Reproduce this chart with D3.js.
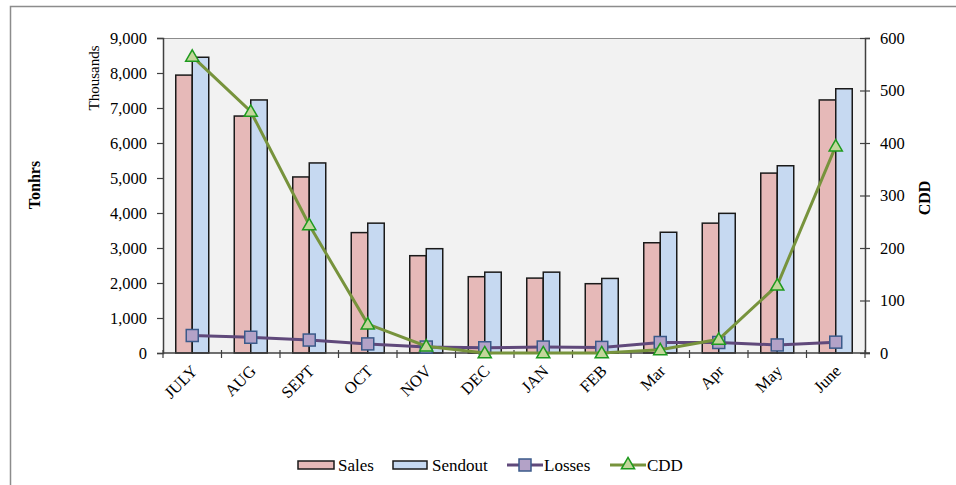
<!DOCTYPE html>
<html>
<head>
<meta charset="utf-8">
<script src="https://cdn.jsdelivr.net/npm/d3@7"></script>
<style>
  html, body { margin: 0; padding: 0; background: #fff; }
  svg { display: block; }
  text { font-family: "Liberation Serif", "Times New Roman", serif; fill: #000; }
</style>
</head>
<body>
<svg id="chart" width="956" height="485"></svg>
<script>
const months = ["JULY","AUG","SEPT","OCT","NOV","DEC","JAN","FEB","Mar","Apr","May","June"];
const sales   = [7940, 6770, 5030, 3440, 2780, 2180, 2140, 1980, 3150, 3710, 5140, 7230];
const sendout = [8450, 7230, 5430, 3710, 2980, 2310, 2310, 2130, 3450, 3990, 5350, 7550];
const losses  = [500, 450, 370, 260, 170, 150, 170, 160, 300, 300, 230, 310];
const cdd     = [565, 460, 244, 55, 13, 0, 0, 0, 6, 26, 129, 394];
const leftTicks  = [0,1000,2000,3000,4000,5000,6000,7000,8000,9000];
const rightTicks = [0,100,200,300,400,500,600];
const seriesNames = ["Sales","Sendout","Losses","CDD"];

const svg = d3.select("#chart");
const L = 163, R = 865, T = 38, B = 353;
const FS = "16.5px";

// outer frame
svg.append("rect").attr("x",10.5).attr("y",6.5).attr("width",960).attr("height",500)
  .attr("fill","none").attr("stroke","#8c8c8c").attr("stroke-width",1.5);

// plot area
svg.append("rect").attr("x",L).attr("y",T).attr("width",R-L).attr("height",B-T).attr("fill","#f2f2f2");
svg.append("line").attr("x1",L).attr("x2",R).attr("y1",T+0.5).attr("y2",T+0.5)
  .attr("stroke","#8c8c8c").attr("stroke-width",1);

const x = d3.scaleBand().domain(months).range([L,R]).padding(0);
const yL = d3.scaleLinear().domain([0,9000]).range([B,T]);
const yR = d3.scaleLinear().domain([0,600]).range([B,T]);
const bw = x.bandwidth()*0.282;

const fmt = d3.format(",");

// left axis
const gl = svg.append("g").attr("transform",`translate(${L},0)`)
  .call(d3.axisLeft(yL).tickValues(leftTicks).tickFormat(fmt).tickSizeOuter(0).tickSize(6).tickPadding(10));
gl.select(".domain").attr("stroke","#404040").attr("stroke-width",1.5);
gl.selectAll(".tick line").attr("stroke","#404040").attr("stroke-width",1.2);
gl.selectAll(".tick text").style("font-size",FS).attr("fill","#000");

// right axis
const gr = svg.append("g").attr("transform",`translate(${R},0)`)
  .call(d3.axisRight(yR).tickValues(rightTicks).tickSizeOuter(0).tickSize(5).tickPadding(10));
gr.select(".domain").attr("stroke","#404040").attr("stroke-width",1.5);
gr.selectAll(".tick line").attr("stroke","#404040").attr("stroke-width",1.2).attr("x1",-5);
gr.selectAll(".tick text").style("font-size",FS).attr("fill","#000");

// bars
const bars = svg.append("g");
bars.selectAll("rect.sales").data(months).join("rect")
  .attr("x", (d)=> x(d)+x.bandwidth()/2 - bw)
  .attr("y", (d,i)=> yL(sales[i]))
  .attr("width", bw).attr("height",(d,i)=> B - yL(sales[i]))
  .attr("fill","#e6b9b8").attr("stroke","#1a1a1a").attr("stroke-width",1.5);
bars.selectAll("rect.sendout").data(months).join("rect")
  .attr("x", (d)=> x(d)+x.bandwidth()/2)
  .attr("y", (d,i)=> yL(sendout[i]))
  .attr("width", bw).attr("height",(d,i)=> B - yL(sendout[i]))
  .attr("fill","#c6d9f1").attr("stroke","#1a1a1a").attr("stroke-width",1.5);

// x axis
const gx = svg.append("g").attr("transform",`translate(0,${B})`);
gx.append("line").attr("x1",L).attr("x2",R+5).attr("y1",0).attr("y2",0).attr("stroke","#404040").attr("stroke-width",1.5);
const bounds = months.map(m=>x(m)).concat([R]);
gx.selectAll("line.tk").data(bounds).join("line")
  .attr("x1",d=>d).attr("x2",d=>d).attr("y1",-3).attr("y2",5)
  .attr("stroke","#404040").attr("stroke-width",1.2);
gx.selectAll("text").data(months).join("text")
  .attr("transform", d=>`translate(${x(d)+x.bandwidth()/2+2},${15}) rotate(-45)`)
  .attr("text-anchor","end").attr("dy","0.35em")
  .style("font-size",FS).text(d=>d);

// losses line
const cx = d=> x(d)+x.bandwidth()/2;
const lossLine = d3.line().x((d,i)=>cx(months[i])).y(d=>yL(d));
svg.append("path").datum(losses).attr("d",lossLine)
  .attr("fill","none").attr("stroke","#60497b").attr("stroke-width",3);
svg.selectAll("rect.lm").data(losses).join("rect")
  .attr("x",(d,i)=>cx(months[i])-6).attr("y",d=>yL(d)-6)
  .attr("width",12).attr("height",12)
  .attr("fill","#b3a2c7").attr("stroke","#3b5a8a").attr("stroke-width",1.5);

// CDD line
const cddLine = d3.line().x((d,i)=>cx(months[i])).y(d=>yR(d));
svg.append("path").datum(cdd).attr("d",cddLine)
  .attr("fill","none").attr("stroke","#77933c").attr("stroke-width",3);
const tri = d3.symbol().type(d3.symbolTriangle).size(75);
svg.selectAll("path.cm").data(cdd).join("path")
  .attr("d",tri).attr("transform",(d,i)=>`translate(${cx(months[i])},${yR(d)+1})`)
  .attr("fill","#c3d69b").attr("stroke","#1e9a1e").attr("stroke-width",1.5);

// axis titles
svg.append("text").attr("transform","translate(99,78) rotate(-90)")
  .attr("text-anchor","middle").style("font-size","15px").text("Thousands");
svg.append("text").attr("transform","translate(40,185) rotate(-90)")
  .attr("text-anchor","middle").style("font-size","16px").style("font-weight","bold").text("Tonhrs");
svg.append("text").attr("transform","translate(930,198) rotate(-90)")
  .attr("text-anchor","middle").style("font-size","16px").style("font-weight","bold").text("CDD");

// legend
const lg = svg.append("g");
const ly = 465;
lg.append("rect").attr("x",298).attr("y",ly-4).attr("width",36).attr("height",8)
  .attr("fill","#e6b9b8").attr("stroke","#1a1a1a").attr("stroke-width",1.5);
lg.append("text").attr("x",338).attr("y",ly).attr("dy","0.35em").style("font-size","17px").text(seriesNames[0]);
lg.append("rect").attr("x",393).attr("y",ly-4).attr("width",34).attr("height",8)
  .attr("fill","#c6d9f1").attr("stroke","#1a1a1a").attr("stroke-width",1.5);
lg.append("text").attr("x",432).attr("y",ly).attr("dy","0.35em").style("font-size","17px").text(seriesNames[1]);
lg.append("line").attr("x1",507).attr("x2",543).attr("y1",ly).attr("y2",ly).attr("stroke","#60497b").attr("stroke-width",3);
lg.append("rect").attr("x",519).attr("y",ly-6).attr("width",12).attr("height",12)
  .attr("fill","#b3a2c7").attr("stroke","#3b5a8a").attr("stroke-width",1.5);
lg.append("text").attr("x",544).attr("y",ly).attr("dy","0.35em").style("font-size","17px").text(seriesNames[2]);
lg.append("line").attr("x1",610).attr("x2",646).attr("y1",ly).attr("y2",ly).attr("stroke","#77933c").attr("stroke-width",3);
lg.append("path").attr("d",tri).attr("transform",`translate(628,${ly})`)
  .attr("fill","#c3d69b").attr("stroke","#1e9a1e").attr("stroke-width",1.5);
lg.append("text").attr("x",647).attr("y",ly).attr("dy","0.35em").style("font-size","17px").text(seriesNames[3]);
</script>
</body>
</html>
